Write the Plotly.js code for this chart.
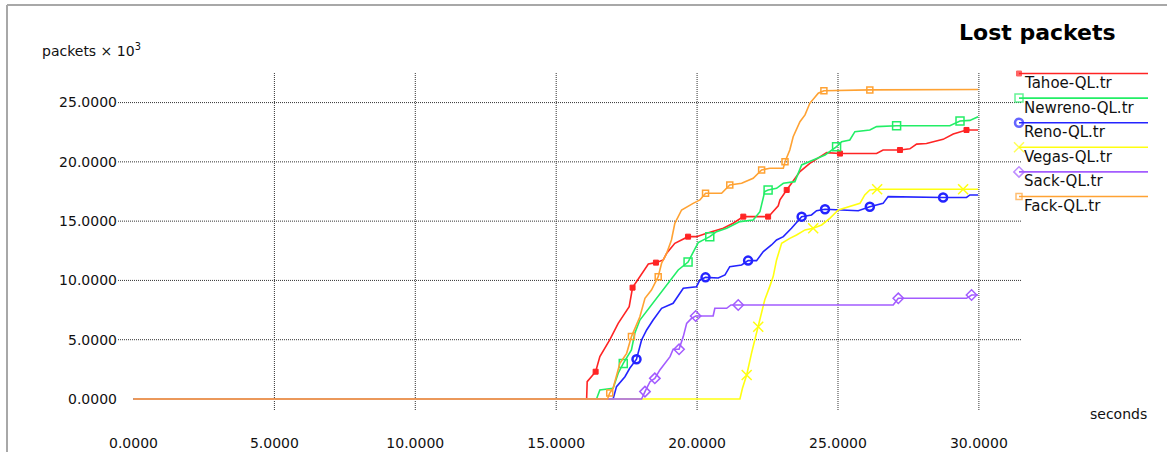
<!DOCTYPE html>
<html>
<head>
<meta charset="utf-8">
<script src="https://cdn.plot.ly/plotly-3.0.1.min.js"></script>
<style>html,body{margin:0;padding:0;background:#fff;}#chart{width:1167px;height:452px;}</style>
</head>
<body>
<div id="chart"></div>
<script>
// ---- data (seconds, packets x 10^3) ----
const seriesNames = ["Tahoe-QL.tr","Newreno-QL.tr","Reno-QL.tr","Vegas-QL.tr","Sack-QL.tr","Fack-QL.tr"];
const seriesColors = ["#ff2424","#22ee66","#2424ff","#ffff10","#a35cff","#ffa233"];

const tahoeT = [0,16.08,16.1,16.4,16.55,16.9,17.2,17.59,17.71,17.97,18.27,18.54,18.8,18.92,19.21,19.68,19.98,20.34,20.93,21.28,21.64,22.52,22.62,22.88,22.94,23.18,23.35,23.65,24.0,24.36,24.6,25.07,26.37,26.6,27.2,27.55,27.79,28.14,28.73,29.09,29.56,29.97];
const tahoeV = [0,0,1.46,2.3,3.57,4.98,6.38,7.79,9.39,10.32,11.39,11.5,11.73,12.29,13.13,13.69,13.69,13.97,14.4,14.82,15.38,15.38,15.6,16.3,16.79,17.63,18.19,19.18,19.88,20.44,20.78,20.7,20.7,21.0,21.0,21.1,21.5,21.55,21.9,22.35,22.69,22.69];
const tahoeMarkT = [16.4,17.71,18.54,19.68,21.64,22.52,23.18,25.07,27.2,29.56];
const tahoeMarkV = [2.3,9.39,11.5,13.69,15.38,15.38,17.63,20.7,21.0,22.69];

const newrenoT = [0,16.43,16.55,17.02,17.2,17.38,17.67,17.79,17.97,18.33,18.68,19.04,19.33,19.68,19.92,20.04,20.45,20.69,21.05,21.52,21.99,22.23,22.4,22.52,22.82,23.06,23.47,23.71,24.12,24.54,24.95,25.13,25.42,25.6,26.13,26.37,27.08,28.97,29.33,29.68,29.97];
const newrenoV = [0,0,0.75,0.9,2.17,3.0,4.13,5.54,6.66,7.79,8.9,10.04,10.88,11.55,12.57,13.19,13.69,14.11,14.4,14.96,15.1,15.8,17.49,17.63,17.77,18.19,18.33,19.74,20.16,20.58,21.28,21.7,21.85,22.55,22.69,22.97,23.05,23.05,23.45,23.5,23.81];
const newrenoMarkT = [17.38,19.68,20.45,22.52,24.95,27.08,29.33];
const newrenoMarkV = [3.0,11.55,13.69,17.63,21.28,23.05,23.45];

const renoT = [0,17.02,17.14,17.44,17.61,17.85,18.03,18.21,18.44,18.74,19.15,19.51,19.98,20.1,20.3,20.75,20.99,21.16,21.58,21.81,22.11,22.35,22.64,22.82,23.06,23.35,23.71,24.06,24.24,24.54,25.72,26.13,26.6,26.78,28.73,29.56,29.68,29.97];
const renoV = [0,0,1.04,1.88,2.59,3.35,4.98,5.82,6.66,7.65,8.07,9.34,9.47,10.04,10.26,10.2,10.46,11.16,11.3,11.67,11.67,12.43,12.99,13.41,13.69,14.4,15.38,15.52,15.88,16.0,15.88,16.22,16.5,17.07,17.0,17.0,17.21,17.21];
const renoMarkT = [17.85,20.3,21.81,23.71,24.54,26.13,28.73];
const renoMarkV = [3.35,10.26,11.67,15.38,16.0,16.22,17.0];

const vegasT = [0,21.52,21.61,21.76,21.93,22.17,22.4,22.58,22.7,22.82,23.0,23.29,23.53,23.83,24.12,24.42,24.71,25.01,25.42,25.78,25.95,26.13,26.39,29.44,29.97];
const vegasV = [0,0,0.9,2.02,3.85,6.1,8.35,9.5,10.32,11.73,13.13,13.55,13.83,14.26,14.4,14.68,15.24,15.94,16.22,16.5,17.21,17.63,17.69,17.69,17.69];
const vegasMarkT = [21.76,22.17,24.12,26.39,29.44];
const vegasMarkV = [2.02,6.1,14.4,17.69,17.69];

const sackT = [0,18.03,18.15,18.33,18.5,18.68,19.04,19.15,19.36,19.51,19.63,19.8,19.95,20.57,20.63,21.05,21.2,21.46,26.96,27.14,29.56,29.74,29.97];
const sackV = [0,0,0.62,1.46,1.74,2.45,3.57,4.19,4.19,5.26,6.38,6.8,7.0,7.0,7.65,7.65,7.93,7.93,7.93,8.49,8.49,8.77,8.77];
const sackMarkT = [18.15,18.5,19.36,19.95,21.46,27.14,29.74];
const sackMarkV = [0.62,1.74,4.19,7.0,7.93,8.49,8.77];

const fackT = [0,16.82,16.9,17.02,17.26,17.5,17.67,17.97,18.15,18.38,18.62,18.74,18.92,19.09,19.21,19.45,19.86,20.1,20.3,20.87,21.16,21.58,21.99,22.29,22.58,23.06,23.12,23.29,23.41,23.65,23.83,24.0,24.3,24.5,26.13,29.97];
const fackV = [0,0,0.5,0.9,3.0,3.85,5.26,6.94,8.49,9.19,10.32,11.45,12.29,13.41,14.82,15.94,16.5,16.79,17.35,17.35,18.05,18.19,18.62,19.32,19.46,19.46,20.02,21.0,22.12,23.39,23.96,24.94,25.79,26.0,26.07,26.1];
const fackMarkT = [16.9,17.67,18.62,20.3,21.16,22.29,23.12,24.5,26.13];
const fackMarkV = [0.5,5.26,10.32,17.35,18.05,19.32,20.02,26.0,26.07];

const xTicks = [0,5,10,15,20,25,30];
const yTicks = [0,5,10,15,20,25];
const xGrid = [5,10,15,20,25,30];
const yGrid = [5,10,15,20,25];

// ---- styling ----
const W = 1167, H = 452;
const lineT = [tahoeT,newrenoT,renoT,vegasT,sackT,fackT];
const lineV = [tahoeV,newrenoV,renoV,vegasV,sackV,fackV];
const markT = [tahoeMarkT,newrenoMarkT,renoMarkT,vegasMarkT,sackMarkT,fackMarkT];
const markV = [tahoeMarkV,newrenoMarkV,renoMarkV,vegasMarkV,sackMarkV,fackMarkV];
const symbols = ["square","square-open","circle-open","x-thin-open","diamond-open","square-open"];
const symSize = [5,8,8,10,8,6];
const symLine = [1,1.5,2.5,1.5,1.5,1.5];

const traces = [];
for (let i = 0; i < seriesNames.length; i++) {
  traces.push({type:'scatter', mode:'lines', x:lineT[i], y:lineV[i], name:seriesNames[i],
    line:{color:seriesColors[i], width:1.6}, hoverinfo:'skip', xaxis:'x', yaxis:'y'});
  traces.push({type:'scatter', mode:'markers', x:markT[i], y:markV[i], name:seriesNames[i],
    marker:{symbol:symbols[i], size:symSize[i], color:seriesColors[i], line:{color:seriesColors[i], width:symLine[i]}},
    hoverinfo:'skip', xaxis:'x', yaxis:'y'});
}
// legend (on a pixel-scaled helper axis)
const legY0 = 73.5, legDy = 24.6;
const annotations = [];
for (let i = 0; i < seriesNames.length; i++) {
  const ly = legY0 + i*legDy;
  traces.push({type:'scatter', mode:'lines+markers', x:[1019,1148], y:[ly,ly],
    line:{color:seriesColors[i], width:1.6},
    marker:{symbol:symbols[i], size:[symSize[i],0], color:seriesColors[i], line:{color:seriesColors[i], width:symLine[i]}},
    hoverinfo:'skip', xaxis:'x2', yaxis:'y2', cliponaxis:false});
  annotations.push({xref:'paper', yref:'paper', x:1022/W, y:1-(ly+9.5)/H, xanchor:'left', yanchor:'middle',
    text:seriesNames[i], showarrow:false, font:{family:'DejaVu Sans', size:15, color:'#111'}});
}
annotations.push({xref:'paper', yref:'paper', x:1118/W, y:1-33/H, xanchor:'right', yanchor:'middle',
  text:'<b>Lost packets</b>', showarrow:false, font:{family:'DejaVu Sans', size:22, color:'#000'}});
annotations.push({xref:'paper', yref:'paper', x:40/W, y:1-50/H, xanchor:'left', yanchor:'middle',
  text:'packets × 10<sup>3</sup>', showarrow:false, font:{family:'DejaVu Sans', size:14, color:'#111'}});
annotations.push({xref:'paper', yref:'paper', x:1149/W, y:1-414/H, xanchor:'right', yanchor:'middle',
  text:'seconds', showarrow:false, font:{family:'DejaVu Sans', size:14, color:'#111'}});

const gridLine = {color:'#333', width:1, dash:'1px,1px'};
const shapes = [];
xGrid.forEach(v => shapes.push({type:'line', layer:'below', xref:'x', yref:'y domain', x0:v, x1:v, y0:0, y1:1, line:gridLine}));
yGrid.forEach(v => shapes.push({type:'line', layer:'below', xref:'x domain', yref:'y', x0:0, x1:1, y0:v, y1:v, line:gridLine}));
// outer frame (left and top edges)
shapes.push({type:'line', xref:'paper', yref:'paper', x0:7/W, x1:7/W, y0:0, y1:1-5/H, line:{color:'#a8a8a8', width:2}});
shapes.push({type:'line', xref:'paper', yref:'paper', x0:7/W, x1:1, y0:1-5/H, y1:1-5/H, line:{color:'#a8a8a8', width:2}});

const layout = {
  width:W, height:H, margin:{l:0,r:0,t:0,b:0,pad:0},
  paper_bgcolor:'#fff', plot_bgcolor:'rgba(0,0,0,0)', showlegend:false,
  font:{family:'DejaVu Sans', size:14, color:'#111'},
  xaxis:{domain:[118/W, 1022/W], range:[-0.55, 31.53], tickmode:'array', tickvals:xTicks, tickformat:'.4f',
    showgrid:false, zeroline:false, showline:false, ticks:'outside', ticklen:20, tickcolor:'rgba(0,0,0,0)',
    tickfont:{family:'DejaVu Sans', size:14, color:'#111'}, anchor:'y', fixedrange:true},
  yaxis:{domain:[42/H, 380/H], range:[-0.93, 27.58], tickmode:'array', tickvals:yTicks, tickformat:'.4f',
    showgrid:false, zeroline:false, showline:false, ticks:'',
    tickfont:{family:'DejaVu Sans', size:14, color:'#111'}, anchor:'x', fixedrange:true},
  xaxis2:{domain:[1000/W, 1], range:[1000, 1167], visible:false, anchor:'y2', fixedrange:true},
  yaxis2:{domain:[0, 1], range:[452, 0], visible:false, anchor:'x2', fixedrange:true},
  shapes:shapes, annotations:annotations
};
Plotly.newPlot('chart', traces, layout, {displayModeBar:false, staticPlot:true});
</script>
</body>
</html>
